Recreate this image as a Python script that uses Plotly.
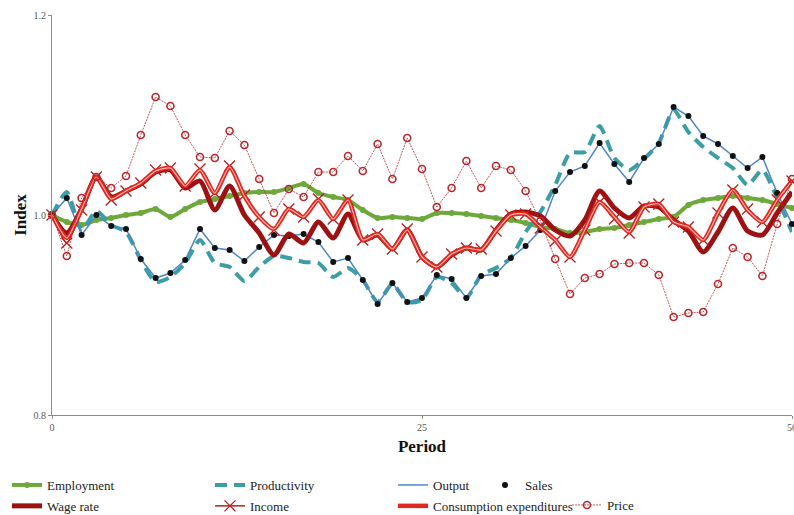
import plotly.graph_objects as go

# Period index 0..50
periods = list(range(51))

employment = [1.000, 0.993, 0.990, 0.995, 0.997, 1.000, 1.002, 1.006, 0.998, 1.006,
              1.013, 1.016, 1.019, 1.022, 1.023, 1.023, 1.027, 1.031, 1.022, 1.018,
              1.015, 1.005, 0.997, 0.998, 0.997, 0.996, 1.002, 1.002, 1.001, 0.999,
              0.997, 0.995, 0.992, 0.988, 0.986, 0.982, 0.983, 0.986, 0.987, 0.990,
              0.993, 0.996, 0.998, 1.010, 1.015, 1.017, 1.019, 1.017, 1.015, 1.011,
              1.007]

productivity = [1.000, 1.023, 0.985, 1.004, 0.990, 0.983, 0.955, 0.933, 0.938, 0.952,
                0.975, 0.952, 0.948, 0.934, 0.948, 0.959, 0.957, 0.953, 0.952, 0.938,
                0.947, 0.935, 0.913, 0.931, 0.913, 0.915, 0.938, 0.932, 0.917, 0.940,
                0.947, 0.957, 0.983, 1.003, 1.030, 1.062, 1.063, 1.089, 1.057, 1.045,
                1.056, 1.072, 1.105, 1.083, 1.068, 1.057, 1.047, 1.030, 1.045, 1.017,
                0.983]

output = [1.000, 1.017, 0.980, 1.000, 0.989, 0.986, 0.956, 0.937, 0.942, 0.955,
          0.986, 0.967, 0.965, 0.954, 0.968, 0.980, 0.979, 0.981, 0.973, 0.953,
          0.957, 0.935, 0.911, 0.932, 0.913, 0.917, 0.940, 0.936, 0.917, 0.939,
          0.941, 0.957, 0.969, 0.985, 1.024, 1.043, 1.049, 1.072, 1.051, 1.033,
          1.057, 1.071, 1.108, 1.099, 1.079, 1.071, 1.059, 1.047, 1.058, 1.022,
          0.991]

sales = [1.000, 1.017, 0.980, 1.000, 0.989, 0.986, 0.956, 0.937, 0.942, 0.955,
         0.986, 0.967, 0.965, 0.954, 0.968, 0.980, 0.979, 0.981, 0.973, 0.953,
         0.957, 0.935, 0.911, 0.932, 0.913, 0.917, 0.940, 0.936, 0.917, 0.939,
         0.941, 0.957, 0.969, 0.985, 1.024, 1.043, 1.049, 1.072, 1.051, 1.033,
         1.057, 1.071, 1.108, 1.099, 1.079, 1.071, 1.059, 1.047, 1.058, 1.022,
         0.991]

wage_rate = [1.000, 0.982, 1.006, 1.038, 1.018, 1.024, 1.031, 1.043, 1.045, 1.027,
             1.034, 1.005, 1.029, 1.000, 0.982, 0.960, 0.981, 0.972, 0.993, 0.977,
             1.001, 0.975, 0.980, 0.966, 0.985, 0.958, 0.948, 0.960, 0.967, 0.965,
             0.985, 1.001, 1.003, 0.999, 0.985, 0.979, 0.995, 1.024, 1.007, 0.997,
             1.009, 1.008, 0.995, 0.984, 0.963, 0.983, 1.007, 0.984, 0.980, 1.002,
             1.023]

income = [1.000, 0.972, 1.005, 1.038, 1.015, 1.024, 1.032, 1.045, 1.047, 1.029,
          1.046, 1.022, 1.049, 1.020, 0.998, 0.985, 1.006, 0.998, 1.016, 0.996,
          1.015, 0.975, 0.981, 0.966, 0.986, 0.958, 0.948, 0.961, 0.967, 0.966,
          0.984, 1.000, 1.001, 0.987, 0.974, 0.958, 0.985, 1.013, 0.996, 0.982,
          1.008, 1.011, 0.993, 0.988, 0.975, 1.002, 1.025, 1.006, 0.993, 1.015,
          1.034]

consumption = [1.000, 0.977, 1.006, 1.038, 1.016, 1.024, 1.032, 1.044, 1.047, 1.029,
               1.045, 1.022, 1.048, 1.019, 0.998, 0.986, 1.006, 0.998, 1.015, 0.996,
               1.015, 0.975, 0.981, 0.966, 0.985, 0.958, 0.948, 0.961, 0.967, 0.965,
               0.984, 1.000, 1.001, 0.988, 0.975, 0.958, 0.985, 1.013, 0.998, 0.983,
               1.008, 1.011, 0.993, 0.988, 0.975, 1.002, 1.025, 1.005, 0.993, 1.015,
               1.034]

price = [1.000, 0.959, 1.017, 1.038, 1.027, 1.039, 1.080, 1.118, 1.109, 1.080,
         1.058, 1.057, 1.084, 1.070, 1.036, 1.002, 1.026, 1.018, 1.043, 1.043,
         1.059, 1.044, 1.071, 1.036, 1.077, 1.046, 1.008, 1.027, 1.054, 1.027,
         1.049, 1.045, 1.024, 0.994, 0.956, 0.921, 0.937, 0.941, 0.951, 0.952,
         0.952, 0.940, 0.898, 0.902, 0.903, 0.931, 0.967, 0.958, 0.939, 0.991,
         1.036]

x_ticks = [0, 25, 50]
y_ticks = [0.8, 1.0, 1.2]

SERIF = "Liberation Serif, Times New Roman, serif"
GREEN = "#6da83a"
TEAL = "#3b9ea3"
BLUE = "#4f86c6"
DARK_RED = "#9c1212"
RED = "#e0281f"
INCOME_RED = "#b42020"
PRICE_RED = "#b8282a"

fig = go.Figure()

fig.add_trace(go.Scatter(
    x=periods, y=employment, name="Employment", mode="lines+markers",
    line=dict(color=GREEN, width=4, shape="spline", smoothing=0.6),
    marker=dict(symbol="circle", size=6, color=GREEN),
    legend="legend", legendgroup="emp", cliponaxis=False))

fig.add_trace(go.Scatter(
    x=periods, y=productivity, name="Productivity", mode="lines",
    line=dict(color=TEAL, width=4, dash="12px,7px", shape="spline", smoothing=0.6),
    legend="legend2", legendgroup="prod", cliponaxis=False))

fig.add_trace(go.Scatter(
    x=periods, y=output, name="Output", mode="lines",
    line=dict(color=BLUE, width=1.5),
    legend="legend3", legendgroup="out", cliponaxis=False))

fig.add_trace(go.Scatter(
    x=periods, y=sales, name="Sales", mode="markers",
    marker=dict(symbol="circle", size=6, color="#111111"),
    legend="legend4", legendgroup="sales", cliponaxis=False))

fig.add_trace(go.Scatter(
    x=periods, y=wage_rate, name="Wage rate", mode="lines",
    line=dict(color=DARK_RED, width=5, shape="spline", smoothing=0.7),
    legend="legend", legendgroup="wage", cliponaxis=False))

fig.add_trace(go.Scatter(
    x=periods, y=income, name="Income", mode="lines+markers",
    line=dict(color=INCOME_RED, width=1.5, shape="spline", smoothing=0.6),
    marker=dict(symbol="x-thin", size=11, line=dict(color=INCOME_RED, width=1.3)),
    legend="legend2", legendgroup="inc", cliponaxis=False))

# Consumption expenditures: red double line (red body with a light core)
fig.add_trace(go.Scatter(
    x=periods, y=consumption, name="Consumption expenditures", mode="lines",
    line=dict(color=RED, width=4.5, shape="spline", smoothing=0.6),
    legend="legend3", legendgroup="cons", cliponaxis=False))
fig.add_trace(go.Scatter(
    x=periods, y=consumption, name="Consumption expenditures", mode="lines",
    line=dict(color="#ffb3b0", width=1.2, shape="spline", smoothing=0.6),
    legend="legend3", legendgroup="cons", showlegend=False, hoverinfo="skip",
    cliponaxis=False))

fig.add_trace(go.Scatter(
    x=periods, y=price, name="Price", mode="lines+markers",
    line=dict(color=PRICE_RED, width=0.8, dash="2px,1px"),
    marker=dict(symbol="circle-open", size=7, color=PRICE_RED, line=dict(width=1.6)),
    legend="legend5", legendgroup="price", cliponaxis=False))

W, H = 794, 515
M_L, M_R, M_T, M_B = 52, 2, 15, 100
PLOT_W, PLOT_H = W - M_L - M_R, H - M_T - M_B


def legend_box(left_px, top_px):
    # position given in page pixels, converted to paper coordinates
    return dict(
        orientation="v",
        x=(left_px - M_L) / PLOT_W, y=(H - M_B - top_px) / PLOT_H,
        xanchor="left", yanchor="top",
        bgcolor="rgba(0,0,0,0)", borderwidth=0, itemwidth=30, tracegroupgap=1,
        font=dict(family=SERIF, size=13, color="#222222"),
    )


fig.update_layout(
    width=W, height=H,
    margin=dict(l=M_L, r=M_R, t=M_T, b=M_B, autoexpand=False),
    paper_bgcolor="white", plot_bgcolor="white",
    showlegend=True,
    legend=legend_box(7, 470),
    legend2=legend_box(210, 470),
    legend3=legend_box(393, 470),
    legend4=legend_box(485, 470),
    legend5=legend_box(567, 490),
    xaxis=dict(
        range=[0, 50], tickvals=x_ticks, ticktext=[str(v) for v in x_ticks],
        showgrid=False, zeroline=False, showline=True, linecolor="#8c8c8c", linewidth=1,
        ticks="outside", ticklen=3, tickcolor="#8c8c8c", ticklabeloverflow="allow",
        tickfont=dict(family=SERIF, size=10, color="#555555"),
        title=dict(text="<b>Period</b>", font=dict(family=SERIF, size=17, color="#111111"), standoff=8),
    ),
    yaxis=dict(
        range=[0.8, 1.2], tickvals=y_ticks, ticktext=[f"{v:.1f}" for v in y_ticks],
        showgrid=False, zeroline=False, showline=True, linecolor="#8c8c8c", linewidth=1,
        ticks="outside", ticklen=3, tickcolor="#8c8c8c",
        tickfont=dict(family=SERIF, size=10, color="#555555"),
        title=dict(text="<b>Index</b>", font=dict(family=SERIF, size=17, color="#111111"), standoff=2),
    ),
)

fig.write_html("out.html")
